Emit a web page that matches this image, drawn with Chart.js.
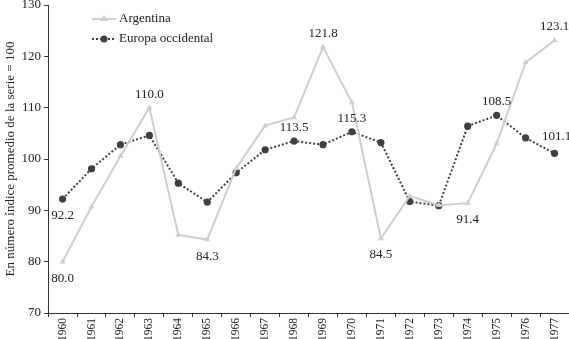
<!DOCTYPE html>
<html>
<head>
<meta charset="utf-8">
<script src="https://cdn.jsdelivr.net/npm/chart.js@4.4.1/dist/chart.umd.min.js"></script>
<style>
  html, body { margin: 0; padding: 0; background: #fff; }
  #wrap { width: 569px; height: 339px; overflow: hidden; }
</style>
</head>
<body>
<div id="wrap"><canvas id="myChart" width="573" height="339"></canvas></div>
<script>
// datos
const anios = ['1960','1961','1962','1963','1964','1965','1966','1967','1968','1969',
               '1970','1971','1972','1973','1974','1975','1976','1977'];
const argentina = [80.0, 90.7, 100.6, 110.0, 85.2, 84.3, 98.2, 106.5, 108.1, 121.8,
                   111.0, 84.5, 92.8, 91.0, 91.4, 103.0, 118.8, 123.1];
const europa = [92.2, 98.1, 102.8, 104.6, 95.3, 91.6, 97.3, 101.8, 103.5, 102.8,
                105.3, 103.2, 91.7, 90.9, 106.4, 108.5, 104.1, 101.1];
// etiquetas impresas sobre algunos puntos
const etiquetasArg = ['80.0', null, null, '110.0', null, '84.3', null, null, null, '121.8',
                      null, '84.5', null, null, '91.4', null, null, '123.1'];
const etiquetasEur = ['92.2', null, null, null, null, null, null, null, '113.5', null,
                      '115.3', null, null, null, null, '108.5', null, '101.1'];
const yTicks = [70, 80, 90, 100, 110, 120, 130];

const FUENTE = '"Liberation Serif", "DejaVu Serif", serif';
const GRIS = 'rgb(206,206,206)';
const OSCURO = 'rgb(64,64,64)';

const etiquetasPlugin = {
    id: 'etiquetas',
    afterDatasetsDraw(chart) {
        const ctx = chart.ctx;
        ctx.save();
        ctx.font = '13px ' + FUENTE;
        ctx.fillStyle = '#222';
        ctx.textAlign = 'center';
        const conf = [
            { ds: 0, etiquetas: etiquetasArg, pos: { 0: 'below', 5: 'below', 11: 'below', 14: 'below' } },
            { ds: 1, etiquetas: etiquetasEur, pos: { 0: 'below' } }
        ];
        conf.forEach(c => {
            const meta = chart.getDatasetMeta(c.ds);
            c.etiquetas.forEach((txt, i) => {
                if (!txt) return;
                const p = meta.data[i];
                let x = p.x, y;
                if (c.pos[i] === 'below') {
                    ctx.textBaseline = 'top';
                    y = p.y + 10;
                } else {
                    ctx.textBaseline = 'bottom';
                    y = p.y - 7;
                }
                if (c.ds === 1 && i === 17) { x += 2; y -= 3; }
                ctx.fillText(txt, x, y);
            });
        });
        ctx.restore();
    }
};

const leyendaPlugin = {
    id: 'leyenda',
    afterDraw(chart) {
        const ctx = chart.ctx;
        ctx.save();
        ctx.font = '13px ' + FUENTE;
        ctx.fillStyle = '#222';
        ctx.textBaseline = 'middle';
        // Argentina
        ctx.strokeStyle = GRIS;
        ctx.lineWidth = 2;
        ctx.beginPath(); ctx.moveTo(92, 19); ctx.lineTo(116, 19); ctx.stroke();
        ctx.fillStyle = GRIS;
        ctx.beginPath(); ctx.moveTo(104, 15); ctx.lineTo(108, 21); ctx.lineTo(100, 21); ctx.closePath(); ctx.fill();
        ctx.fillStyle = '#222';
        ctx.fillText('Argentina', 119, 19);
        // Europa
        ctx.strokeStyle = OSCURO;
        ctx.setLineDash([2, 2]);
        ctx.beginPath(); ctx.moveTo(92, 39); ctx.lineTo(116, 39); ctx.stroke();
        ctx.setLineDash([]);
        ctx.fillStyle = OSCURO;
        ctx.beginPath(); ctx.arc(104, 39, 3.5, 0, Math.PI * 2); ctx.fill();
        ctx.fillStyle = '#222';
        ctx.fillText('Europa occidental', 119, 39);
        ctx.restore();
    }
};

function crearGrafico() {
    const ctx = document.getElementById('myChart').getContext('2d');
    new Chart(ctx, {
        type: 'line',
        data: {
            labels: anios,
            datasets: [{
                label: 'Argentina',
                data: argentina,
                borderColor: GRIS,
                backgroundColor: GRIS,
                borderWidth: 2,
                pointStyle: 'triangle',
                pointRadius: 3.5,
                pointBorderWidth: 0,
                tension: 0
            }, {
                label: 'Europa occidental',
                data: europa,
                borderColor: OSCURO,
                backgroundColor: OSCURO,
                borderWidth: 2,
                borderDash: [2, 2],
                pointStyle: 'circle',
                pointRadius: 3.6,
                pointBorderWidth: 0,
                tension: 0
            }]
        },
        options: {
            responsive: false,
            animation: false,
            layout: { padding: { top: 0, right: 0, left: 3, bottom: -3 } },
            plugins: { legend: { display: false }, tooltip: { enabled: false } },
            scales: {
                x: {
                    offset: true,
                    afterFit: s => { s.paddingRight = 0; s.paddingLeft = 0; },
                    border: { color: '#333', width: 1 },
                    grid: { offset: true, drawOnChartArea: false, drawTicks: true, tickLength: 4, color: '#333' },
                    ticks: { color: '#222', font: { family: FUENTE, size: 11.5 }, maxRotation: 90, minRotation: 90, padding: 1 }
                },
                y: {
                    min: 70, max: 130,
                    afterBuildTicks: axis => { axis.ticks = yTicks.map(v => ({ value: v })); },
                    afterFit: s => { s.paddingTop = 5; s.paddingBottom = 0; },
                    border: { color: '#333', width: 1 },
                    grid: { drawOnChartArea: false, drawTicks: true, tickLength: 4, color: '#333' },
                    ticks: { color: '#222', font: { family: FUENTE, size: 13 }, padding: 3 },
                    title: { display: true, text: 'En número índice promedio de la serie = 100',
                             color: '#222', font: { family: FUENTE, size: 13 }, padding: 0 }
                }
            }
        },
        plugins: [etiquetasPlugin, leyendaPlugin]
    });
}

document.addEventListener("DOMContentLoaded", () => {
    crearGrafico();
});
</script>
</body>
</html>
